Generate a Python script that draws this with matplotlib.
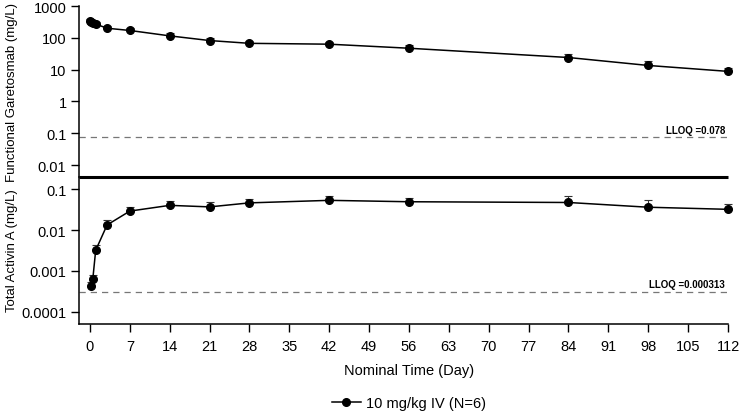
import matplotlib
matplotlib.use("Agg")
import matplotlib.pyplot as plt
import numpy as np

plt.rcParams['font.family'] = ['Liberation Sans', 'DejaVu Sans']

# functional garetosmab (mg/L), mean and mean+SD
t_gar = [0.04, 0.25, 0.5, 1, 3, 7, 14, 21, 28, 42, 56, 84, 98, 112]
gar_mean = [340, 310, 290, 270, 200, 170, 115, 82, 67, 63, 47, 24, 13.5, 8.8]
gar_upper = [400, 360, 330, 310, 235, 200, 145, 100, 80, 72, 60, 31, 19, 11.5]

# total activin A (mg/L), mean and mean+SD
t_act = [0.25, 0.5, 1, 3, 7, 14, 21, 28, 42, 56, 84, 98, 112]
act_mean = [0.00042, 0.00065, 0.0032, 0.0133, 0.029, 0.040, 0.0367, 0.046,
            0.053, 0.049, 0.047, 0.036, 0.032]
act_upper = [0.00054, 0.00078, 0.0044, 0.0176, 0.0355, 0.0515, 0.047, 0.058,
             0.068, 0.062, 0.068, 0.053, 0.044]

lloq_gar = 0.078
lloq_act = 0.000313
xticks = list(range(0, 113, 7))

fig = plt.figure(figsize=(7.4, 4.14), dpi=100)
L, R = 79 / 740, 728 / 740
ax2 = fig.add_axes([L, 1 - 325 / 414, R - L, (325 - 178) / 414])
ax1 = fig.add_axes([L, 1 - 178 / 414, R - L, (178 - 7) / 414])
ax1.patch.set_visible(False)
ax2.patch.set_visible(False)

def draw(ax, t, m, up, lloq, txt):
    m = np.array(m)
    err = np.array(up) - m
    ax.errorbar(t, m, yerr=[np.zeros_like(err), err], fmt='-o', color='black',
                ms=5.5, lw=1.1, elinewidth=0.8, capsize=3, capthick=0.8,
                ecolor='#333333', clip_on=False, zorder=3)
    ax.axhline(lloq, color='#777777', ls=(0, (5, 4)), lw=0.9)
    ax.text(111.5, lloq * 1.15, txt, ha='right', va='bottom', fontsize=7,
            fontweight='bold')
    ax.set_yscale('log')
    ax.set_xlim(-1.93, 112)
    ax.minorticks_off()
    for s in ['top', 'right']:
        ax.spines[s].set_visible(False)
    ax.spines['left'].set_linewidth(1.1)
    ax.tick_params(axis='y', length=6, width=1, labelsize=10.5, pad=3)

draw(ax1, t_gar, gar_mean, gar_upper, lloq_gar, 'LLOQ =0.078')
draw(ax2, t_act, act_mean, act_upper, lloq_act, 'LLOQ =0.000313')

ax1.set_ylim(0.0042, 1000)
ax1.set_yticks([1000, 100, 10, 1, 0.1, 0.01])
ax1.set_yticklabels(['1000', '100', '10', '1', '0.1', '0.01'])
ax1.spines['bottom'].set_linewidth(2.2)
ax1.spines['bottom'].set_capstyle('butt')
ax1.spines['bottom'].set_zorder(5)
ax1.set_xticks([])

ax2.set_ylim(5.07e-5, 0.197)
ax2.set_yticks([0.1, 0.01, 0.001, 0.0001])
ax2.set_yticklabels(['0.1', '0.01', '0.001', '0.0001'])
ax2.spines['bottom'].set_linewidth(1.1)
ax2.set_xticks(xticks)
ax2.tick_params(axis='x', length=6, width=1, labelsize=10.5, pad=5)

fig.text(12 / 740, 1 - 92 / 414, 'Functional Garetosmab (mg/L)', rotation=90,
         ha='center', va='center', fontsize=9.5)
fig.text(12 / 740, 1 - 251 / 414, 'Total Activin A (mg/L)', rotation=90,
         ha='center', va='center', fontsize=9.5)
fig.text(409 / 740, 1 - 371 / 414, 'Nominal Time (Day)', ha='center',
         va='center', fontsize=10.5)

h = ax2.lines[0]
fig.legend([h], ['10 mg/kg IV (N=6)'], loc='center', frameon=False,
           bbox_to_anchor=(409 / 740, 1 - 404 / 414), fontsize=10.5,
           handlelength=2.0, handletextpad=0.4)

fig.savefig('out.png', dpi=100)
